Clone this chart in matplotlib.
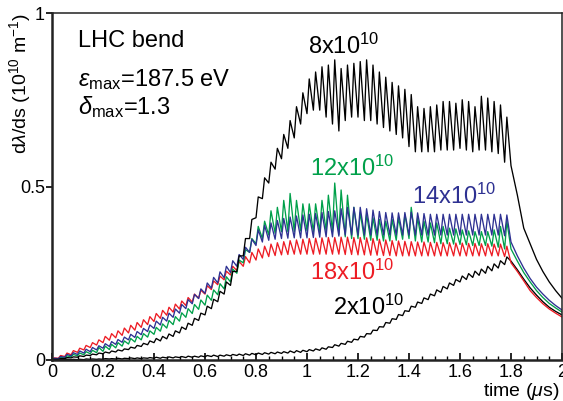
import matplotlib
matplotlib.use("Agg")
import matplotlib.pyplot as plt
import numpy as np

plt.rcParams['font.family'] = ['Liberation Sans', 'DejaVu Sans']
plt.rcParams['mathtext.fontset'] = 'custom'
plt.rcParams['mathtext.rm'] = 'Liberation Sans'
plt.rcParams['mathtext.it'] = 'Liberation Sans:italic'
plt.rcParams['mathtext.bf'] = 'Liberation Sans:bold'

# bunch passages every 25 ns, 72 bunches
bunch_spacing = 0.025
n_bunches = 72

# value just before each bunch (lo) and just after it (hi), in 1e10 m^-1
black8_lo = [0.000, 0.002, 0.004, 0.006, 0.008, 0.010, 0.013, 0.015,
             0.018, 0.020, 0.023, 0.026, 0.030, 0.034, 0.039, 0.044,
             0.050, 0.055, 0.061, 0.068, 0.078, 0.088, 0.100, 0.114,
             0.130, 0.148, 0.168, 0.190, 0.215, 0.255, 0.300, 0.350,
             0.410, 0.465, 0.510, 0.550, 0.580, 0.610, 0.640, 0.680,
             0.710, 0.720, 0.720, 0.700, 0.680, 0.660, 0.690, 0.700,
             0.700, 0.690, 0.690, 0.680, 0.670, 0.660, 0.650, 0.640,
             0.615, 0.600, 0.600, 0.600, 0.600, 0.605, 0.605, 0.605,
             0.610, 0.605, 0.600, 0.605, 0.605, 0.600, 0.595, 0.570]
black8_hi = [0.002, 0.004, 0.007, 0.009, 0.012, 0.014, 0.017, 0.020,
             0.023, 0.026, 0.029, 0.032, 0.037, 0.042, 0.048, 0.055,
             0.062, 0.068, 0.075, 0.084, 0.095, 0.106, 0.120, 0.135,
             0.155, 0.175, 0.198, 0.225, 0.255, 0.300, 0.350, 0.405,
             0.470, 0.525, 0.570, 0.610, 0.650, 0.690, 0.730, 0.770,
             0.810, 0.830, 0.845, 0.850, 0.865, 0.840, 0.850, 0.855,
             0.860, 0.865, 0.850, 0.830, 0.815, 0.800, 0.790, 0.780,
             0.765, 0.730, 0.725, 0.730, 0.735, 0.745, 0.745, 0.740,
             0.750, 0.745, 0.730, 0.760, 0.755, 0.745, 0.735, 0.700]

green_lo = [0.000, 0.003, 0.006, 0.009, 0.012, 0.015, 0.018, 0.021,
            0.025, 0.030, 0.035, 0.040, 0.046, 0.052, 0.058, 0.066,
            0.074, 0.083, 0.092, 0.102, 0.112, 0.123, 0.134, 0.146,
            0.158, 0.172, 0.188, 0.205, 0.225, 0.250, 0.280, 0.310,
            0.335, 0.350, 0.360, 0.365, 0.370, 0.370, 0.370, 0.372,
            0.372, 0.370, 0.370, 0.372, 0.370, 0.362, 0.355, 0.350,
            0.350, 0.348, 0.345, 0.345, 0.343, 0.343, 0.345, 0.348,
            0.350, 0.343, 0.340, 0.340, 0.338, 0.335, 0.335, 0.334,
            0.333, 0.332, 0.330, 0.330, 0.330, 0.328, 0.325, 0.320]
green_hi = [0.003, 0.008, 0.012, 0.016, 0.020, 0.024, 0.028, 0.036,
            0.040, 0.045, 0.050, 0.055, 0.062, 0.068, 0.076, 0.084,
            0.094, 0.104, 0.114, 0.125, 0.136, 0.148, 0.160, 0.173,
            0.187, 0.202, 0.220, 0.240, 0.262, 0.288, 0.318, 0.350,
            0.385, 0.400, 0.430, 0.440, 0.460, 0.480, 0.460, 0.450,
            0.450, 0.450, 0.460, 0.475, 0.510, 0.490, 0.475, 0.440,
            0.425, 0.420, 0.410, 0.405, 0.400, 0.405, 0.410, 0.420,
            0.440, 0.410, 0.400, 0.395, 0.395, 0.385, 0.380, 0.378,
            0.375, 0.372, 0.370, 0.370, 0.370, 0.375, 0.385, 0.400]

blue_lo = [0.000, 0.004, 0.008, 0.012, 0.016, 0.020, 0.024, 0.029,
           0.034, 0.039, 0.045, 0.051, 0.058, 0.065, 0.073, 0.082,
           0.091, 0.101, 0.112, 0.123, 0.135, 0.148, 0.162, 0.177,
           0.192, 0.207, 0.222, 0.237, 0.252, 0.270, 0.290, 0.310,
           0.330, 0.340, 0.345, 0.348, 0.350, 0.351, 0.352, 0.352,
           0.352, 0.353, 0.354, 0.355, 0.355, 0.357, 0.360, 0.360,
           0.360, 0.360, 0.360, 0.360, 0.360, 0.360, 0.360, 0.360,
           0.360, 0.360, 0.360, 0.360, 0.360, 0.360, 0.360, 0.360,
           0.360, 0.360, 0.360, 0.360, 0.360, 0.360, 0.360, 0.358]
blue_hi = [0.005, 0.010, 0.016, 0.021, 0.026, 0.031, 0.036, 0.041,
           0.047, 0.053, 0.059, 0.066, 0.074, 0.082, 0.091, 0.101,
           0.112, 0.123, 0.135, 0.147, 0.160, 0.174, 0.189, 0.205,
           0.222, 0.238, 0.254, 0.270, 0.286, 0.304, 0.325, 0.348,
           0.375, 0.388, 0.395, 0.402, 0.408, 0.412, 0.415, 0.418,
           0.420, 0.422, 0.425, 0.428, 0.430, 0.436, 0.440, 0.440,
           0.440, 0.436, 0.432, 0.428, 0.425, 0.424, 0.424, 0.425,
           0.426, 0.424, 0.422, 0.420, 0.420, 0.420, 0.420, 0.420,
           0.420, 0.420, 0.420, 0.420, 0.420, 0.420, 0.420, 0.418]

red_lo = [0.000, 0.005, 0.010, 0.015, 0.022, 0.029, 0.036, 0.043,
          0.050, 0.057, 0.064, 0.071, 0.078, 0.086, 0.094, 0.102,
          0.111, 0.120, 0.129, 0.138, 0.147, 0.157, 0.167, 0.178,
          0.190, 0.203, 0.217, 0.231, 0.245, 0.258, 0.270, 0.280,
          0.288, 0.294, 0.298, 0.301, 0.303, 0.304, 0.305, 0.305,
          0.305, 0.305, 0.305, 0.305, 0.305, 0.305, 0.304, 0.304,
          0.303, 0.303, 0.302, 0.302, 0.301, 0.301, 0.300, 0.300,
          0.300, 0.300, 0.300, 0.300, 0.300, 0.300, 0.300, 0.300,
          0.300, 0.300, 0.300, 0.300, 0.300, 0.300, 0.300, 0.298]
red_hi = [0.006, 0.013, 0.020, 0.027, 0.034, 0.042, 0.050, 0.058,
          0.068, 0.076, 0.084, 0.092, 0.100, 0.108, 0.116, 0.125,
          0.134, 0.143, 0.152, 0.161, 0.170, 0.180, 0.190, 0.201,
          0.214, 0.228, 0.242, 0.256, 0.270, 0.284, 0.298, 0.310,
          0.320, 0.328, 0.334, 0.338, 0.341, 0.344, 0.346, 0.348,
          0.350, 0.351, 0.352, 0.353, 0.353, 0.354, 0.354, 0.353,
          0.353, 0.352, 0.350, 0.348, 0.346, 0.344, 0.343, 0.342,
          0.341, 0.340, 0.340, 0.339, 0.339, 0.338, 0.338, 0.337,
          0.337, 0.336, 0.336, 0.335, 0.335, 0.334, 0.334, 0.328]

black2_lo = [0.000, 0.000, 0.001, 0.001, 0.001, 0.001, 0.002, 0.002,
             0.002, 0.003, 0.003, 0.003, 0.004, 0.004, 0.004, 0.005,
             0.005, 0.005, 0.006, 0.006, 0.007, 0.007, 0.008, 0.008,
             0.009, 0.010, 0.010, 0.011, 0.012, 0.013, 0.013, 0.014,
             0.015, 0.016, 0.017, 0.018, 0.019, 0.020, 0.021, 0.022,
             0.024, 0.026, 0.028, 0.031, 0.036, 0.040, 0.045, 0.051,
             0.058, 0.066, 0.075, 0.085, 0.095, 0.106, 0.117, 0.128,
             0.140, 0.152, 0.163, 0.174, 0.185, 0.195, 0.205, 0.215,
             0.225, 0.232, 0.238, 0.244, 0.250, 0.257, 0.265, 0.275]
black2_hi = [0.001, 0.001, 0.002, 0.002, 0.002, 0.003, 0.003, 0.003,
             0.004, 0.004, 0.005, 0.005, 0.006, 0.006, 0.006, 0.007,
             0.008, 0.008, 0.009, 0.009, 0.010, 0.011, 0.011, 0.012,
             0.013, 0.014, 0.014, 0.015, 0.016, 0.017, 0.018, 0.019,
             0.020, 0.021, 0.022, 0.023, 0.024, 0.026, 0.027, 0.028,
             0.030, 0.032, 0.035, 0.038, 0.044, 0.048, 0.054, 0.060,
             0.068, 0.076, 0.086, 0.096, 0.108, 0.119, 0.131, 0.142,
             0.155, 0.167, 0.179, 0.190, 0.202, 0.212, 0.222, 0.232,
             0.242, 0.249, 0.256, 0.262, 0.270, 0.277, 0.286, 0.297]

# decay after the last bunch
tail_t = [1.80, 1.825, 1.85, 1.875, 1.90, 1.925, 1.95, 1.975, 2.0]
black8_tail = [0.56, 0.475, 0.38, 0.335, 0.29, 0.255, 0.225, 0.20, 0.178]
green_tail = [0.32, 0.285, 0.252, 0.225, 0.20, 0.18, 0.163, 0.15, 0.138]
blue_tail = [0.34, 0.30, 0.265, 0.235, 0.21, 0.19, 0.172, 0.157, 0.144]
red_tail = [0.28, 0.255, 0.228, 0.20, 0.18, 0.162, 0.147, 0.135, 0.124]
black2_tail = [0.285, 0.26, 0.233, 0.208, 0.187, 0.168, 0.152, 0.14, 0.13]

def build_curve(lo, hi, tail):
    t_bunch = np.arange(n_bunches) * bunch_spacing
    t = np.empty(2 * n_bunches)
    v = np.empty(2 * n_bunches)
    t[0::2] = t_bunch
    t[1::2] = t_bunch + 0.35 * bunch_spacing
    v[0::2] = lo
    v[1::2] = hi
    return np.concatenate([t, tail_t]), np.concatenate([v, tail])

col_green = '#00a04a'
col_blue = '#2e3192'
col_red = '#ed1c24'

fig = plt.figure(figsize=(5.63, 4.01), dpi=100)
ax = fig.add_axes([52 / 563, 1 - 360 / 401, 510 / 563, 347 / 401])

curves = [(black2_lo, black2_hi, black2_tail, 'black'),
          (red_lo, red_hi, red_tail, col_red),
          (green_lo, green_hi, green_tail, col_green),
          (blue_lo, blue_hi, blue_tail, col_blue),
          (black8_lo, black8_hi, black8_tail, 'black')]
for lo, hi, tail, c in curves:
    t, v = build_curve(lo, hi, tail)
    ax.plot(t, v, color=c, lw=0.95)

ax.set_xlim(0, 2)
ax.set_ylim(0, 1)
ax.set_xticks(np.arange(0, 2.01, 0.2))
ax.set_xticklabels(['0', '0.2', '0.4', '0.6', '0.8', '1', '1.2', '1.4', '1.6', '1.8', '2'])
ax.set_xticks(np.arange(0, 2.01, 0.05), minor=True)
ax.set_yticks([0, 0.5, 1])
ax.set_yticklabels(['0', '0.5', '1'])
ax.tick_params(axis='x', which='major', direction='in', length=5, width=1.2,
               labelsize=13, pad=3, top=False)
ax.tick_params(axis='x', which='minor', direction='in', length=3, width=1.0, top=False)
ax.tick_params(axis='y', which='major', direction='out', length=4, width=1.2,
               labelsize=13, pad=1, right=False)

for side in ['left', 'bottom']:
    ax.spines[side].set_linewidth(1.8)
for side in ['top', 'right']:
    ax.spines[side].set_linewidth(1.1)
for s in ax.spines.values():
    s.set_color('#222222')

fig.text(20 / 563, 1 - 13 / 401, r'd$\lambda$/ds (10$^{10}$ m$^{-1}$)', rotation=90,
         ha='center', va='top', fontsize=14)
fig.text(559 / 563, 1 - 391 / 401, r'time ($\mu$s)', ha='right', va='center', fontsize=14)

ax.text(0.051, 0.919, 'LHC bend', transform=ax.transAxes, fontsize=17, va='center')
ax.text(0.051, 0.807, r'$\varepsilon_{\mathrm{max}}$=187.5 eV', transform=ax.transAxes,
        fontsize=17, va='center')
ax.text(0.051, 0.728, r'$\delta_{\mathrm{max}}$=1.3', transform=ax.transAxes,
        fontsize=17, va='center')

ax.text(1.004, 0.903, r'8x10$^{10}$', fontsize=17, va='center', color='black')
ax.text(1.012, 0.552, r'12x10$^{10}$', fontsize=17, va='center', color=col_green)
ax.text(1.41, 0.473, r'14x10$^{10}$', fontsize=17, va='center', color=col_blue)
ax.text(1.012, 0.252, r'18x10$^{10}$', fontsize=17, va='center', color=col_red)
ax.text(1.103, 0.151, r'2x10$^{10}$', fontsize=17, va='center', color='black')

fig.savefig('out.png', dpi=100)
